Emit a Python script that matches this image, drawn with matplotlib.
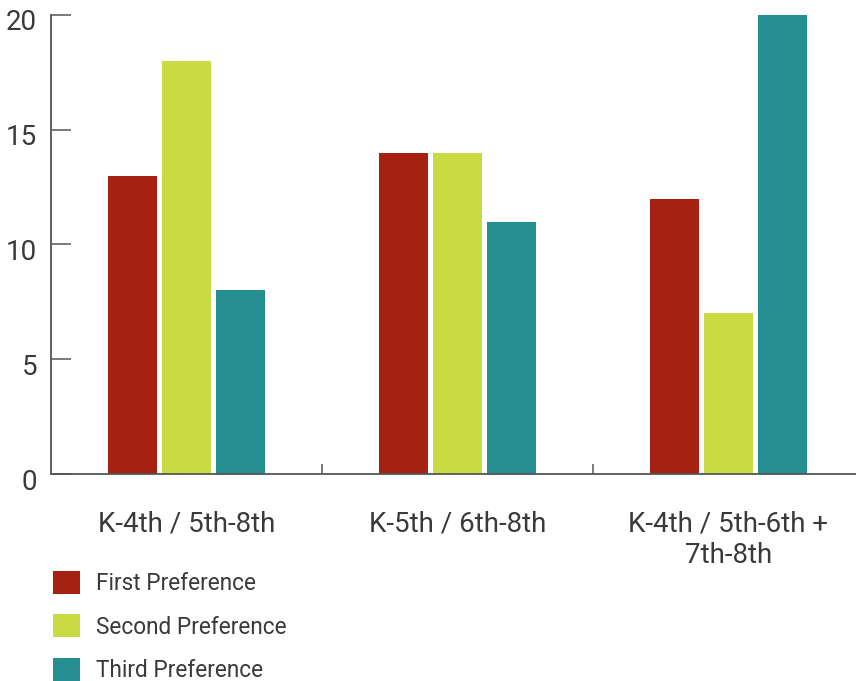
import matplotlib.pyplot as plt
import matplotlib.transforms as mtransforms
import numpy as np
from matplotlib.patches import Patch

# 데이터
categories = ['K-4th / 5th-8th', 'K-5th / 6th-8th', 'K-4th / 5th-6th +\n7th-8th']
series_names = ['First Preference', 'Second Preference', 'Third Preference']
first_pref = [13, 14, 12]
second_pref = [18, 14, 7]
third_pref = [8, 11, 20]
yticks = [0, 5, 10, 15, 20]

colors = ['#A52212', '#C8DB43', '#248E91']
text_color = '#3a3a3a'
axis_color = '#555555'

plt.rcParams['font.family'] = ['Roboto', 'DejaVu Sans']

fig = plt.figure(figsize=(8.56, 6.81), dpi=100)
ax = fig.add_axes([51/856, 207/681, 805/856, 459/681])

x = np.arange(len(categories))
width = 49/271
step = 54/271
series = [first_pref, second_pref, third_pref]
for i, vals in enumerate(series):
    ax.bar(x + (i - 1) * step, vals, width, color=colors[i], label=series_names[i])

ax.set_xlim(-0.5, 2.5 - 8/271)
ax.set_ylim(0, 20)

for s in ['top', 'right']:
    ax.spines[s].set_visible(False)
for s in ['left', 'bottom']:
    ax.spines[s].set_color(axis_color)
    ax.spines[s].set_linewidth(1.3)

ax.set_yticks(yticks)
ax.set_yticklabels([str(v) for v in yticks])
ax.tick_params(axis='y', direction='in', length=14.4, width=1.1, color=axis_color,
               pad=10, labelsize=20, labelcolor=text_color)
# y 라벨을 살짝 아래로
offset = mtransforms.ScaledTranslation(0, -5/100, fig.dpi_scale_trans)
for lab in ax.get_yticklabels():
    lab.set_transform(lab.get_transform() + offset)

ax.set_xticks(x)
ax.set_xticklabels(categories, fontsize=20, color=text_color, linespacing=1.25)
ax.tick_params(axis='x', which='major', length=0, pad=26)
ax.set_xticks([0.5, 1.5], minor=True)
ax.tick_params(axis='x', which='minor', direction='in', length=7, width=1.1, color=axis_color)

handles = [Patch(facecolor=c, edgecolor='none') for c in colors]
fig.legend(handles, series_names, loc='upper left', bbox_to_anchor=(53/856, 1 - 571/681),
           frameon=False, fontsize=16.3, labelcolor=text_color,
           handlelength=1.2, handleheight=1.2, handletextpad=0.72,
           labelspacing=0.84, borderpad=0, borderaxespad=0)

fig.savefig('out.png', dpi=100)
